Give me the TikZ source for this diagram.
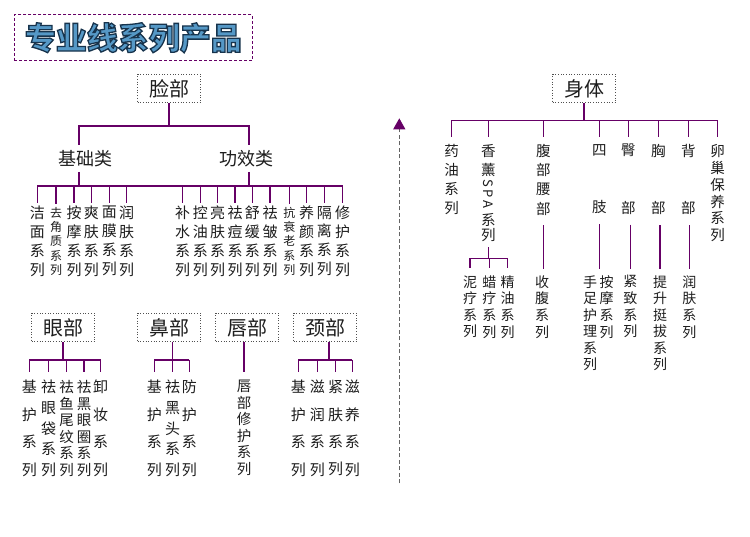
\documentclass[tikz,border=0pt]{standalone}
\usepackage{fontspec}
\usetikzlibrary{arrows.meta}
\setmainfont{Noto Sans CJK SC}
\newcommand\fs[2]{\fontsize{#1pt}{#2pt}\selectfont}
\definecolor{ln}{RGB}{102,0,102}
\definecolor{txt}{RGB}{30,30,30}
\definecolor{bx}{RGB}{80,80,80}
\definecolor{tmain}{RGB}{85,152,198}
\definecolor{dashgray}{RGB}{100,100,100}
\newcommand\strokedtext[1]{\special{pdf:code q 2 Tr 1.3 w 0.09 0.2 0.3 RG}#1\special{pdf:code Q}}
\begin{document}
\begin{tikzpicture}[x=1pt,y=-1pt,
  conn/.style={draw=ln, line width=1.15pt},
  catbox/.style={draw=bx, dotted, line width=0.7pt, minimum width=63pt, minimum height=28.5pt, inner sep=0pt, font=\fs{20}{20}, text=txt},
  cat/.style={inner sep=0pt, font=\fs{18}{18}, text=txt},
  leaf/.style={anchor=north, inner sep=0pt, align=center, text=txt},
  ttl/.style={inner sep=0pt, font=\fs{31}{31}\bfseries},
  dsh/.style={draw=dashgray, line width=0.9pt, dash pattern=on 4pt off 2.5pt}]
\useasboundingbox (0,0) rectangle (750,537);
\fill[white] (0,0) rectangle (750,537);

% ---------- title ----------
\node[draw=ln, dash pattern=on 3pt off 2pt, line width=0.9pt, minimum width=238pt, minimum height=46pt] (titlebox) at (133.3,37.8) {};
\node[ttl, text=tmain] (title) at (titlebox.center) {\strokedtext{专业线系列产品}};

% ---------- face ----------
\node[catbox] (lian) at (169,88.4) {脸部};
\node[cat] (jichu) at (85,159) {基础类};
\node[cat] (gongxiao) at (246,159) {功效类};
\coordinate (lbar) at (169,126);
\coordinate (ja) at (79,145);
\coordinate (jb) at (79,172);
\coordinate (ga) at (249,145);
\coordinate (gb) at (249,172);
\coordinate (fbar) at (0,186);
\draw[conn] (lian.south) -- (lbar);
\draw[conn] (ja) -- (ja |- lbar) -- (ga |- lbar) -- (ga);

\node[leaf,font=\fs{15}{18.9}] (f1) at (37.3,205.8) {洁\\面\\系\\列};
\node[leaf,font=\fs{12}{14.2}] (f2) at (56,207.2) {去\\角\\质\\系\\列};
\node[leaf,font=\fs{15}{18.9}] (f3) at (74,205.8) {按\\摩\\系\\列};
\node[leaf,font=\fs{15}{18.9}] (f4) at (91.3,205.8) {爽\\肤\\系\\列};
\node[leaf,font=\fs{15}{18.9}] (f5) at (109.3,205.8) {面\\膜\\系\\列};
\node[leaf,font=\fs{15}{18.9}] (f6) at (126.7,205.8) {润\\肤\\系\\列};
\node[leaf,font=\fs{15}{18.9}] (g1) at (182.7,205.8) {补\\水\\系\\列};
\node[leaf,font=\fs{15}{18.9}] (g2) at (200.3,205.8) {控\\油\\系\\列};
\node[leaf,font=\fs{15}{18.9}] (g3) at (217.7,205.8) {亮\\肤\\系\\列};
\node[leaf,font=\fs{15}{18.9}] (g4) at (235,205.8) {祛\\痘\\系\\列};
\node[leaf,font=\fs{15}{18.9}] (g5) at (252.3,205.8) {舒\\缓\\系\\列};
\node[leaf,font=\fs{15}{18.9}] (g6) at (270,205.8) {祛\\皱\\系\\列};
\node[leaf,font=\fs{12}{14.2}] (g7) at (289.3,207.2) {抗\\衰\\老\\系\\列};
\node[leaf,font=\fs{15}{18.9}] (g8) at (306.7,205.8) {养\\颜\\系\\列};
\node[leaf,font=\fs{15}{18.9}] (g9) at (324.3,205.8) {隔\\离\\系\\列};
\node[leaf,font=\fs{15}{18.9}] (g10) at (342.7,205.8) {修\\护\\系\\列};
\draw[conn] (jb) -- (jb |- fbar);
\draw[conn] (gb) -- (gb |- fbar);
\draw[conn] (f1.north |- fbar) -- (g10.north |- fbar);
\foreach \n in {f1,f2,f3,f4,f5,f6,g1,g2,g3,g4,g5,g6,g7,g8,g9,g10}
  \draw[conn] (\n.north |- fbar) -- ([yshift=3pt]\n.north);

% ---------- eye / nose / lip / neck ----------
\coordinate (ebar) at (0,360);
\node[catbox] (yan) at (63,327.5) {眼部};
\node[catbox] (bi) at (169,327.5) {鼻部};
\node[catbox] (chun) at (247,327.5) {唇部};
\node[catbox] (jing) at (325,327.5) {颈部};

\node[leaf,font=\fs{15}{27.4}] (e1) at (29.3,380.1) {基\\护\\系\\列};
\node[leaf,font=\fs{15}{20.6}] (e2) at (48.7,380.1) {祛\\眼\\袋\\系\\列};
\node[leaf,font=\fs{14.5}{16.5}] (e3) at (66.7,380.3) {祛\\鱼\\尾\\纹\\系\\列};
\node[leaf,font=\fs{14.5}{16.5}] (e4) at (84,380.3) {祛\\黑\\眼\\圈\\系\\列};
\node[leaf,font=\fs{15}{27.4}] (e5) at (100.7,380.1) {卸\\妆\\系\\列};
\draw[conn] (yan.south) -- (yan.south |- ebar);
\draw[conn] (e1.north |- ebar) -- (e5.north |- ebar);
\foreach \n in {e1,e2,e3,e4,e5}
  \draw[conn] (\n.north |- ebar) -- ([yshift=8.4pt]\n.north);

\node[leaf,font=\fs{15}{27.4}] (n1) at (154.3,380.1) {基\\护\\系\\列};
\node[leaf,font=\fs{15}{20.6}] (n2) at (172.5,380.1) {祛\\黑\\头\\系\\列};
\node[leaf,font=\fs{15}{27.4}] (n3) at (189.3,380.1) {防\\护\\系\\列};
\draw[conn] (n2.north |- bi.south) -- (n2.north |- ebar);
\draw[conn] (n1.north |- ebar) -- (n3.north |- ebar);
\foreach \n in {n1,n2,n3}
  \draw[conn] (\n.north |- ebar) -- ([yshift=8.4pt]\n.north);

\node[leaf,font=\fs{14.5}{16.5}] (l1) at (244,380.3) {唇\\部\\修\\护\\系\\列};
\draw[conn] (l1.north |- chun.south) -- ([yshift=8.4pt]l1.north);

\node[leaf,font=\fs{15}{27.4}] (k1) at (298.3,380.1) {基\\护\\系\\列};
\node[leaf,font=\fs{15}{27.4}] (k2) at (317.3,380.1) {滋\\润\\系\\列};
\node[leaf,font=\fs{15}{27.4}] (k3) at (335.7,380.1) {紧\\肤\\系\\列};
\node[leaf,font=\fs{15}{27.4}] (k4) at (352.3,380.1) {滋\\养\\系\\列};
\draw[conn] ([xshift=4pt]jing.south) -- ([xshift=4pt]jing.south |- ebar);
\draw[conn] (k1.north |- ebar) -- (k4.north |- ebar);
\foreach \n in {k1,k2,k3,k4}
  \draw[conn] (\n.north |- ebar) -- ([yshift=8.4pt]\n.north);

% ---------- divider arrow ----------
\coordinate (abot) at (399.3,483.3);
\coordinate (atop) at (399.3,118.3);
\draw[dsh, -{Triangle[width=12pt,length=11pt,color=ln,fill=ln]}] (abot) -- (atop);

% ---------- body ----------
\node[catbox] (shen) at (584,88.5) {身体};
\coordinate (bbar) at (0,120.3);
\node[leaf,font=\fs{14.5}{19.2}] (b1) at (451.5,144) {药\\油\\系\\列};
\node[leaf,font=\fs{14.5}{19.3}] (b2) at (488.3,144) {香\\薰};
\node[inner sep=0pt, rotate=-90, font=\fs{13}{13}, text=txt] (spa) at (488.3,194) {S\kern2.5pt P\kern2.5pt A};
\node[leaf,font=\fs{14.5}{15}] (b2b) at (488.3,213.3) {系\\列};
\node[leaf,font=\fs{14.5}{19.2}] (b3) at (543.3,144) {腹\\部\\腰\\部};
\node[leaf,font=\fs{14.5}{57.6}] (b4) at (599.3,144) {四\\肢};
\node[leaf,font=\fs{14.5}{57.6}] (b5) at (628.3,144) {臀\\部};
\node[leaf,font=\fs{14.5}{57.6}] (b6) at (658.3,144) {胸\\部};
\node[leaf,font=\fs{14.5}{57.6}] (b7) at (688.3,144) {背\\部};
\node[leaf,font=\fs{14.5}{16.9}] (b8) at (717.7,144) {卵\\巢\\保\\养\\系\\列};
\draw[conn] (shen.south) -- (shen.south |- bbar);
\draw[conn] (b1.north |- bbar) -- (b8.north |- bbar);
\foreach \n in {b1,b2,b3,b4,b5,b6,b7,b8}
  \draw[conn] (\n.north |- bbar) -- ([yshift=6.7pt]\n.north);

\coordinate (sbar) at (0,258.3);
\coordinate (sbot) at (0,269);
\node[leaf,font=\fs{14}{16.6}] (s1) at (470,275.3) {泥\\疗\\系\\列};
\node[leaf,font=\fs{14}{16.6}] (s2) at (489.3,275.3) {蜡\\疗\\系\\列};
\node[leaf,font=\fs{14}{16.6}] (s3) at (507.5,275.3) {精\\油\\系\\列};
\node[leaf,font=\fs{14}{16.6}] (s4) at (542,275.3) {收\\腹\\系\\列};
\node[leaf,font=\fs{14}{16.5}] (s5) at (590,275.3) {手\\足\\护\\理\\系\\列};
\node[leaf,font=\fs{14}{16.6}] (s6) at (606.7,275.3) {按\\摩\\系\\列};
\node[leaf,font=\fs{14}{16.6}] (s7) at (630.3,275.3) {紧\\致\\系\\列};
\node[leaf,font=\fs{14}{16.5}] (s8) at (660,275.3) {提\\升\\挺\\拔\\系\\列};
\node[leaf,font=\fs{14}{16.6}] (s9) at (689.3,275.3) {润\\肤\\系\\列};
\draw[conn] ([yshift=-5pt]b2b.south) -- (b2b.south |- sbar);
\draw[conn] (s1.north |- sbar) -- (s3.north |- sbar);
\foreach \n in {s1,s2,s3}
  \draw[conn] (\n.north |- sbar) -- ([yshift=7pt]\n.north);
\draw[conn] ([yshift=-10pt]b3.south) -- (b3.south |- sbot);
\draw[conn] ([yshift=-10pt]b4.south) -- (b4.south |- sbot);
\draw[conn] ([yshift=-10pt,xshift=2pt]b5.south) -- ([xshift=2pt]b5.south |- sbot);
\draw[conn] ([yshift=-10pt,xshift=1.7pt]b6.south) -- ([xshift=1.7pt]b6.south |- sbot);
\draw[conn] ([yshift=-10pt,xshift=1pt]b7.south) -- ([xshift=1pt]b7.south |- sbot);
\end{tikzpicture}
\end{document}
